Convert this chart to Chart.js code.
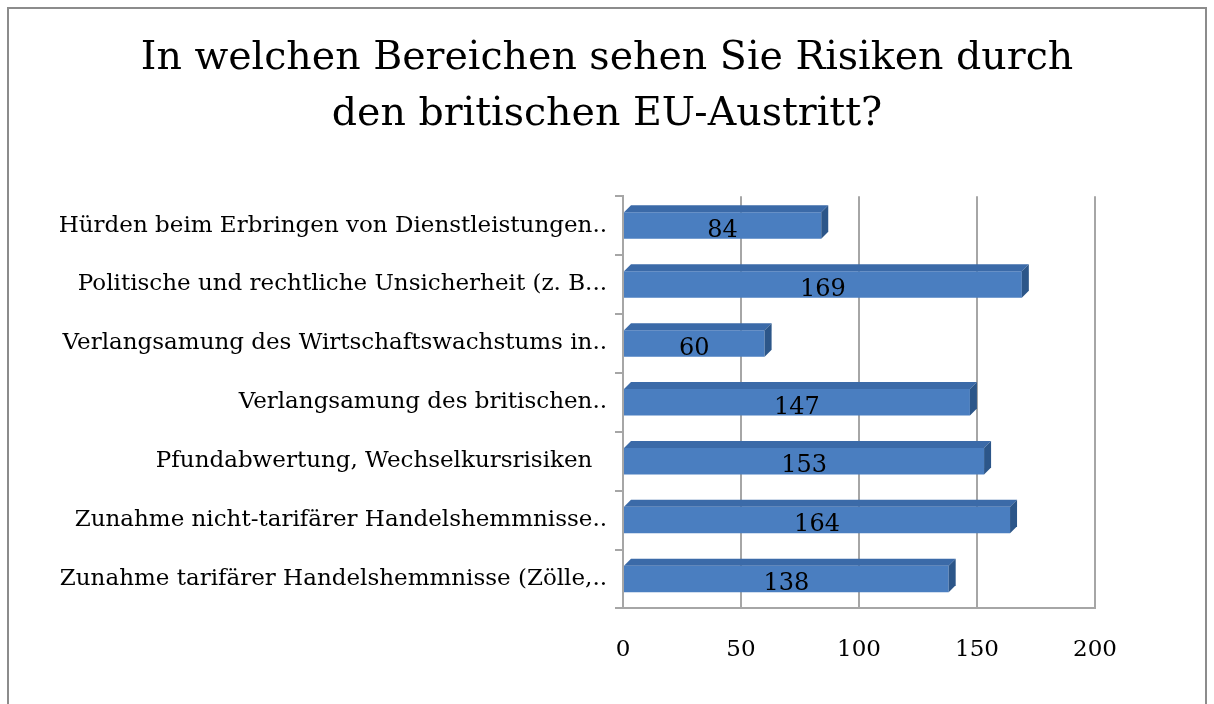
<!DOCTYPE html>
<html>
<head>
<meta charset="utf-8">
<script src="https://cdn.jsdelivr.net/npm/chart.js@4.4.1/dist/chart.umd.min.js"></script>
<style>
  html, body { margin: 0; padding: 0; background: #ffffff; }
  #wrap { width: 1214px; height: 704px; position: relative; }
</style>
</head>
<body>
<div id="wrap"><canvas id="graphRisks" width="1214" height="704"></canvas></div>
<script>
// Chart data
var titleLines = ['In welchen Bereichen sehen Sie Risiken durch', 'den britischen EU-Austritt?'];
var categories = [
    'Hürden beim Erbringen von Dienstleistungen..',
    'Politische und rechtliche Unsicherheit (z. B...',
    'Verlangsamung des Wirtschaftswachstums in..',
    'Verlangsamung des britischen..',
    'Pfundabwertung, Wechselkursrisiken  ',
    'Zunahme nicht-tarifärer Handelshemmnisse..',
    'Zunahme tarifärer Handelshemmnisse (Zölle,..'
];
var answers = [84, 169, 60, 147, 153, 164, 138];
var axisMin = 0;
var axisMax = 200;
var axisStep = 50;

var serif = "'DejaVu Serif', 'Liberation Serif', serif";
var barFront = '#4a7ec0';
var barTop = '#3b6aa8';
var barSide = '#2c5689';

/**
 * Frame round the whole picture
 */
var framePlugin = {
    id: 'frame',
    beforeDraw: function(chart) {
        var ctx = chart.ctx;
        ctx.save();
        ctx.fillStyle = '#ffffff';
        ctx.fillRect(0, 0, chart.width, chart.height);
        ctx.strokeStyle = '#8c8c8c';
        ctx.lineWidth = 2;
        ctx.strokeRect(8, 8, 1198, 720);
        ctx.restore();
    }
};

/**
 * Fake 3D depth on every bar plus the value label
 */
var depthPlugin = {
    id: 'depth',
    afterDatasetsDraw: function(chart) {
        var ctx = chart.ctx;
        var meta = chart.getDatasetMeta(0);
        var dx = 7, dy = 7;
        ctx.save();
        meta.data.forEach(function(bar, i) {
            var x0 = bar.base, x1 = bar.x;
            var top = bar.y - bar.height / 2;
            var bottom = bar.y + bar.height / 2;

            ctx.fillStyle = barTop;
            ctx.beginPath();
            ctx.moveTo(x0, top);
            ctx.lineTo(x0 + dx, top - dy);
            ctx.lineTo(x1 + dx, top - dy);
            ctx.lineTo(x1, top);
            ctx.closePath();
            ctx.fill();

            ctx.fillStyle = barSide;
            ctx.beginPath();
            ctx.moveTo(x1, top);
            ctx.lineTo(x1 + dx, top - dy);
            ctx.lineTo(x1 + dx, bottom - dy);
            ctx.lineTo(x1, bottom);
            ctx.closePath();
            ctx.fill();

            ctx.fillStyle = '#000000';
            ctx.font = '24px ' + serif;
            ctx.textAlign = 'center';
            ctx.textBaseline = 'middle';
            ctx.fillText(String(answers[i]), (x0 + x1) / 2, bar.y + 5);
        });
        ctx.restore();
    }
};

var ctxRisks = document.getElementById('graphRisks').getContext('2d');
var riskChart = new Chart(ctxRisks, {
    type: 'bar',
    data: {
        labels: categories,
        datasets: [{
            label: 'Nennungen',
            data: answers,
            backgroundColor: barFront,
            borderWidth: 0,
            barPercentage: 0.45,
            categoryPercentage: 1.0
        }]
    },
    options: {
        indexAxis: 'y',
        responsive: false,
        animation: false,
        layout: {
            padding: { left: 12, right: 12, top: 0, bottom: 12 }
        },
        plugins: {
            legend: { display: false },
            tooltip: { enabled: false },
            title: {
                display: true,
                text: titleLines,
                color: '#000000',
                font: { family: serif, size: 39.5, weight: 'normal', lineHeight: 1.42 },
                padding: { top: 31, bottom: 53 }
            }
        },
        scales: {
            x: {
                min: axisMin,
                max: axisMax,
                ticks: {
                    stepSize: axisStep,
                    color: '#000000',
                    font: { family: serif, size: 23 },
                    padding: 28
                },
                grid: {
                    color: '#a6a6a6',
                    lineWidth: 2,
                    drawTicks: false
                },
                border: { display: true, color: '#a6a6a6', width: 2 }
            },
            y: {
                afterFit: function(scale) { scale.width = 611; },
                ticks: {
                    color: '#000000',
                    font: { family: serif, size: 23 },
                    padding: 8
                },
                grid: {
                    offset: true,
                    drawOnChartArea: false,
                    color: '#a6a6a6',
                    lineWidth: 2,
                    tickLength: 8
                },
                border: { display: true, color: '#a6a6a6', width: 2 }
            },
            // empty right-hand axis, only keeps room on the right
            yRight: {
                type: 'linear',
                axis: 'y',
                position: 'right',
                afterFit: function(scale) { scale.width = 107; },
                ticks: { display: false },
                grid: { display: false },
                border: { display: false }
            }
        }
    },
    plugins: [framePlugin, depthPlugin]
});
</script>
</body>
</html>
